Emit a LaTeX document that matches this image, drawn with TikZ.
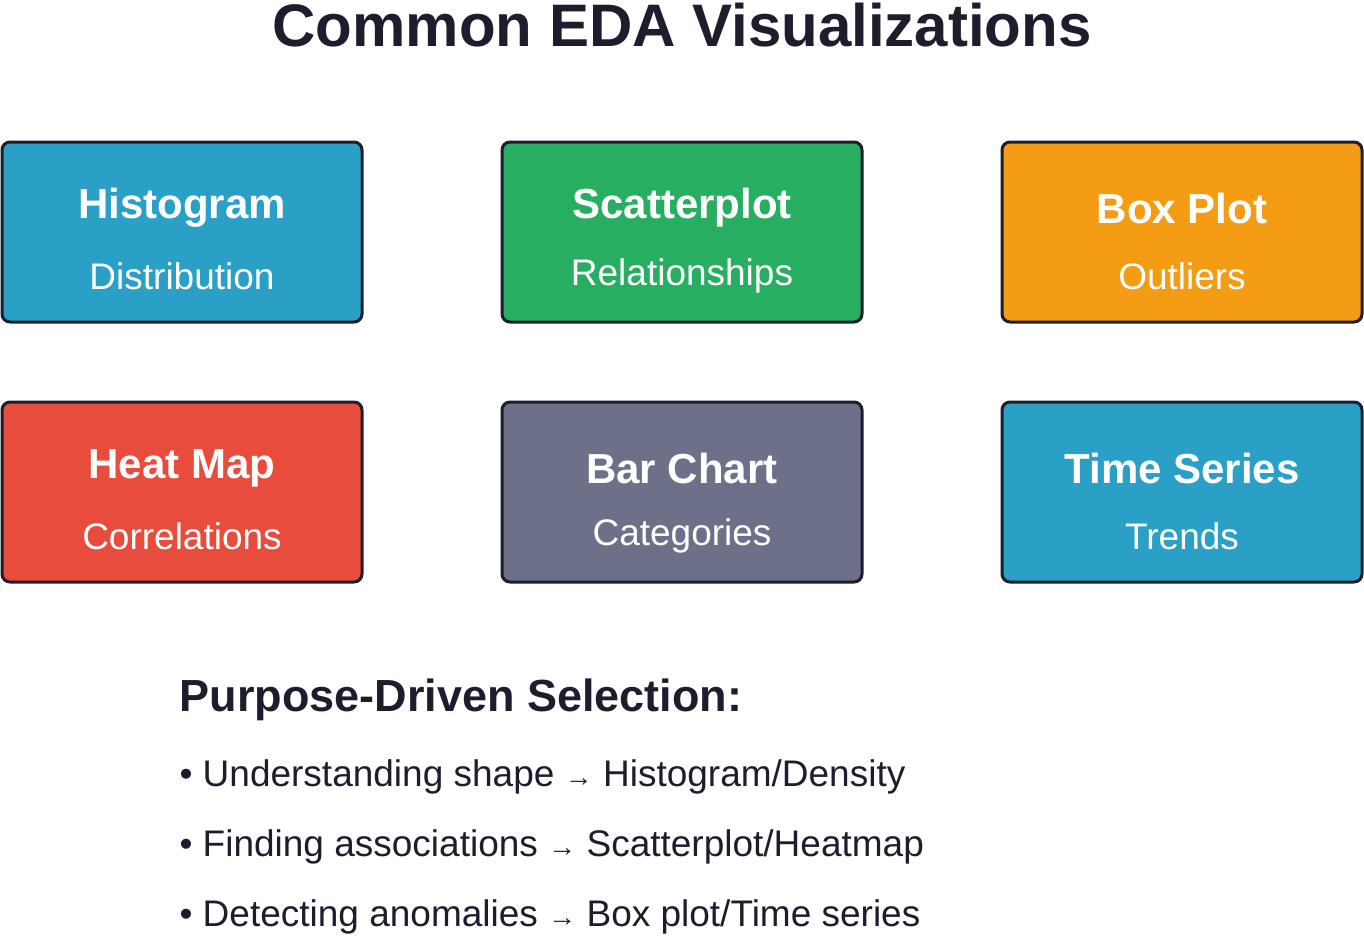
\documentclass[tikz,border=0pt]{standalone}
\usepackage{fontspec}
\setmainfont{Liberation Sans}
\definecolor{dk}{HTML}{1C1E2E}
\definecolor{cb}{HTML}{2BA0C6}
\definecolor{cg}{HTML}{27AE60}
\definecolor{co}{HTML}{F39C14}
\definecolor{cr}{HTML}{E74C3C}
\definecolor{cs}{HTML}{6C7089}
\begin{document}
\begin{tikzpicture}[x=1pt,y=-1pt,
  card/.style={draw=dk,line width=3pt,rounded corners=8pt,minimum width=360pt,minimum height=180pt,inner sep=0pt},
  ttl/.style={text=white,font=\bfseries\fontsize{42}{48}\selectfont},
  sub/.style={text=white,font=\fontsize{37}{44}\selectfont},
  bul/.style={text=dk,anchor=west,font=\fontsize{37}{44}\selectfont}]
\useasboundingbox (0,0) rectangle (1364,938);
\node[text=dk,font=\bfseries\fontsize{60}{70}\selectfont] (title) at (682,25) {Common EDA Visualizations};
\foreach \n/\x/\y/\c/\t/\s in {a/182/232/cb/Histogram/Distribution, b/682/232/cg/Scatterplot/Relationships, c/1182/232/co/Box Plot/Outliers, d/182/492/cr/Heat Map/Correlations, e/682/492/cs/Bar Chart/Categories, f/1182/492/cb/Time Series/Trends}{
  \node[card,fill=\c] (\n) at (\x,\y) {};
  \node[ttl] (\n t) at (\x,208) [yshift=0pt] {};
}
\node[ttl] at (182,208) {Histogram};
\node[sub] at (182,276) {Distribution};
\node[ttl] at (682,208) {Scatterplot};
\node[sub] at (682,276) {Relationships};
\node[ttl] at (1182,208) {Box Plot};
\node[sub] at (1182,276) {Outliers};
\node[ttl] at (182,468) {Heat Map};
\node[sub] at (182,536) {Correlations};
\node[ttl] at (682,468) {Bar Chart};
\node[sub] at (682,536) {Categories};
\node[ttl] at (1182,468) {Time Series};
\node[sub] at (1182,536) {Trends};
\node[bul,font=\bfseries\fontsize{45}{52}\selectfont] (h) at (176,700) {Purpose-Driven Selection:};
\node[bul] (b1) at (176,777) {• Understanding shape {\fontsize{28}{30}\selectfont→} Histogram/Density};
\node[bul] (b2) at (176,847) {• Finding associations {\fontsize{28}{30}\selectfont→} Scatterplot/Heatmap};
\node[bul] (b3) at (176,917) {• Detecting anomalies {\fontsize{28}{30}\selectfont→} Box plot/Time series};
\end{tikzpicture}
\end{document}
